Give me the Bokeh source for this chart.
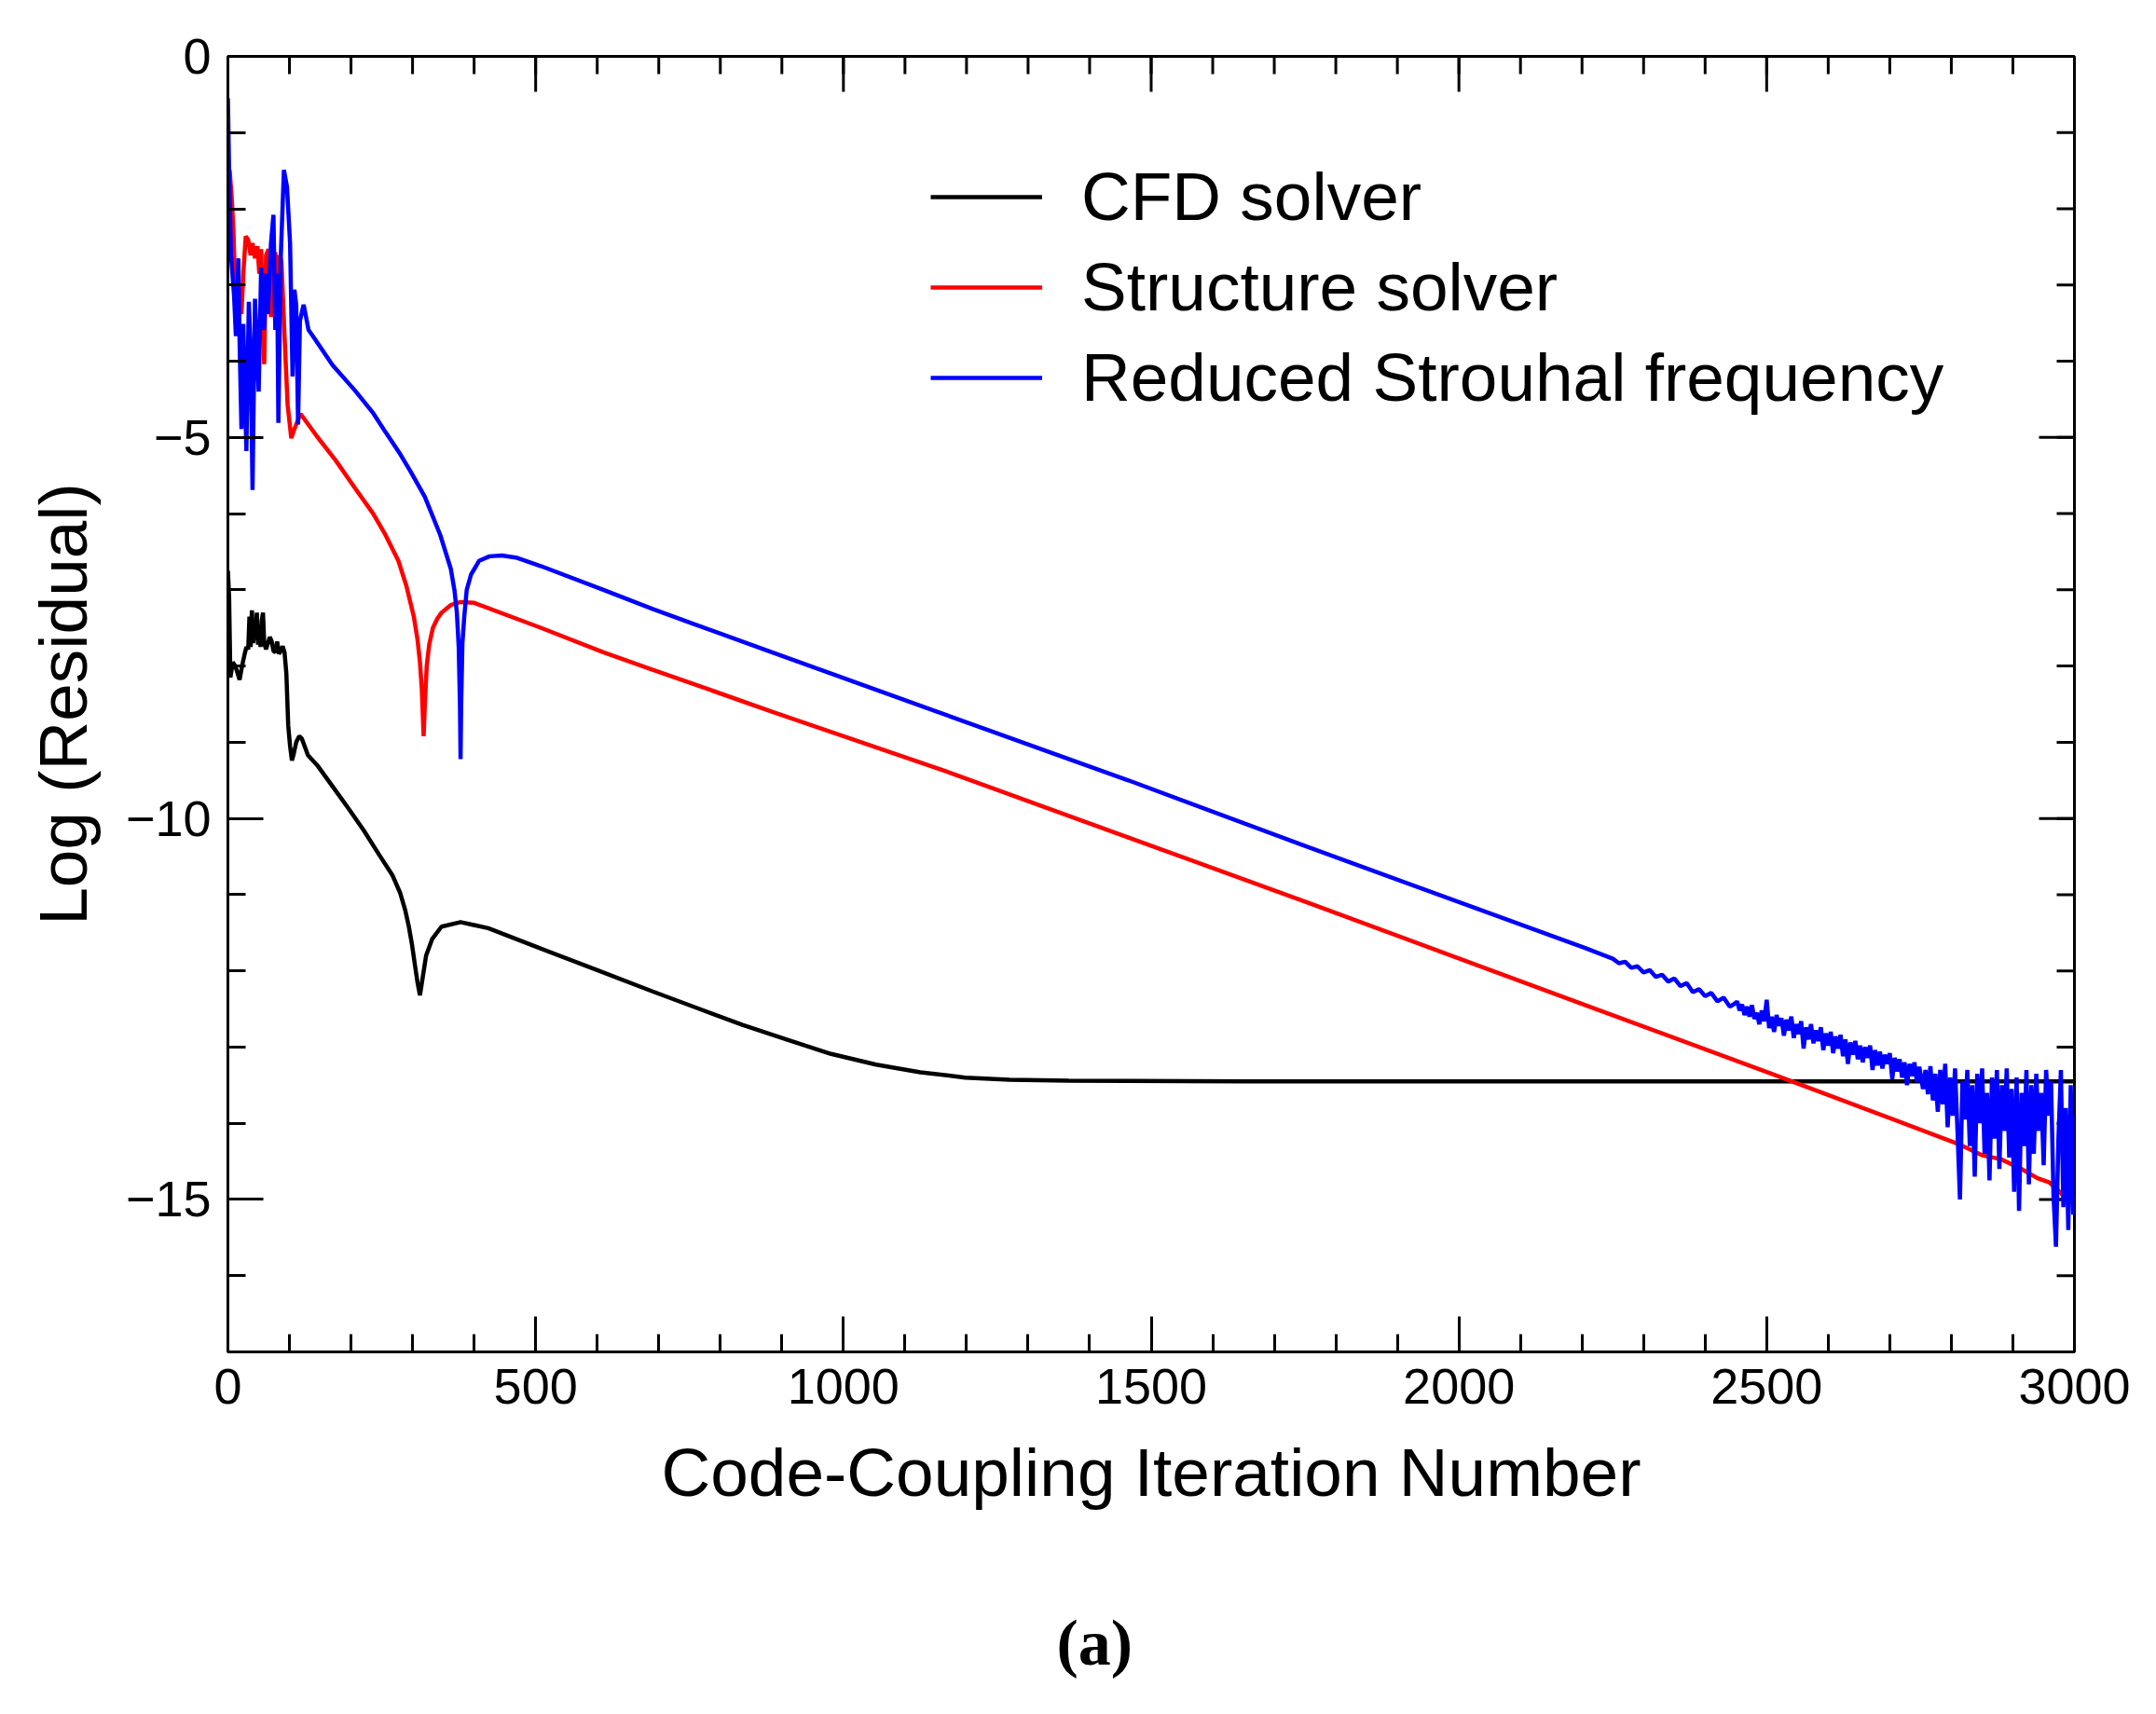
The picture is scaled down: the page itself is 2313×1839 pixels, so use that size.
from bokeh.plotting import figure
from bokeh.models import Range1d, FixedTicker, Legend, LegendItem, Title
from bokeh.embed import file_html
from bokeh.resources import INLINE

# CFD solver residual (black)
cfd_x = [0, 2, 4, 8, 12, 16, 19, 23, 27, 30, 33, 35, 37, 39, 41, 43, 45, 47, 49, 51,
         53, 55, 57, 59, 62, 65, 68, 71, 74, 77, 80, 83, 86, 89, 92, 95, 98, 101, 104, 107,
         111, 116, 120, 125, 130, 145, 171, 196, 221, 246, 267, 280, 288, 294, 299, 304, 308, 312, 317, 322,
         332, 347, 378, 423, 509, 600, 690, 763, 836, 908, 980, 1053, 1125, 1198, 1270, 1366, 1656, 2000,
         2500, 3000]
cfd_y = [-6.75, -7.1, -8.15, -7.95, -8.0, -8.1, -8.18, -8.0, -7.85, -7.75, -7.78, -7.35, -7.75, -7.27, -7.7, -7.55, -7.6, -7.3, -7.72, -7.55,
         -7.75, -7.4, -7.3, -7.7, -7.78, -7.7, -7.62, -7.67, -7.8, -7.82, -7.68, -7.84, -7.8, -7.74, -7.82, -8.1, -8.78, -9.05, -9.24, -9.15,
         -9.0, -8.92, -8.95, -9.06, -9.17, -9.30, -9.59, -9.87, -10.16, -10.48, -10.74, -10.98, -11.2, -11.42, -11.65, -11.93, -12.15, -12.32, -12.06, -11.80,
         -11.58, -11.42, -11.36, -11.44, -11.71, -11.99, -12.27, -12.49, -12.71, -12.90, -13.09, -13.23, -13.33, -13.40, -13.43, -13.44, -13.45, -13.45,
         -13.45, -13.45]

# Structure solver residual (red)
str_x = [1, 3, 6, 9, 12, 17, 22, 25, 29, 33, 37, 40, 44, 48, 51, 54, 57, 59, 62, 66,
         70, 73, 77, 81, 84, 87, 92, 97, 103, 108, 118, 145, 175, 206, 236, 256, 277, 290, 302, 308,
         312, 315, 318, 320, 323, 327, 333, 340, 347, 362, 378, 400, 509, 610, 690, 751, 884, 1173, 1463, 1753,
         2205, 2508, 2811, 2850, 2880, 2912, 2940, 2960, 2980, 3000]
str_y = [-1.45, -1.51, -1.83, -2.28, -3.14, -3.26, -3.38, -2.85, -2.36, -2.41, -2.61, -2.45, -2.65, -2.49, -2.85, -2.53, -3.47, -4.04, -2.61, -2.53,
         -3.42, -2.69, -2.57, -2.94, -2.61, -2.69, -3.67, -4.57, -5.01, -4.89, -4.69, -4.99, -5.3, -5.66, -6.0, -6.28, -6.62, -6.95, -7.35, -7.65,
         -7.95, -8.3, -8.92, -8.5, -8.0, -7.72, -7.5, -7.38, -7.3, -7.2, -7.16, -7.17, -7.5, -7.82, -8.05, -8.22, -8.6, -9.4, -10.25, -11.1,
         -12.45, -13.35, -14.27, -14.42, -14.47, -14.59, -14.72, -14.78, -14.93, -15.0]

# Reduced Strouhal frequency residual (blue)
rsf_x = [0, 2, 5, 10, 13, 17, 19, 22, 25, 30, 34, 37, 40, 44, 50, 54, 59, 62, 65, 70,
         74, 77, 80, 82, 86, 91, 96, 101, 105, 108, 111, 114, 117, 123, 126, 131, 138, 170, 206, 236,
         256, 280, 297, 320, 345, 362, 368, 372, 375, 377, 378, 379, 381, 384, 388, 395, 408, 425, 445, 470,
         509, 610, 690, 751, 884, 1173, 1463, 1753, 2205]
rsf_y = [-0.55, -1.5, -2.61, -3.14, -3.67, -2.65, -3.75, -4.89, -3.51, -5.18, -3.22, -3.87, -5.69, -3.18, -4.40, -2.77, -3.59, -2.85, -3.38, -2.45,
         -2.08, -3.59, -2.85, -4.81, -2.61, -1.49, -1.71, -2.45, -4.2, -3.06, -3.26, -4.83, -3.47, -3.26, -3.38, -3.59, -3.67, -4.05, -4.38, -4.68,
         -4.93, -5.22, -5.45, -5.78, -6.28, -6.72, -7.0, -7.3, -7.75, -8.5, -9.22, -8.5, -7.7, -7.35, -7.0, -6.8, -6.62, -6.56, -6.55, -6.58,
         -6.69, -7.0, -7.25, -7.43, -7.82, -8.66, -9.5, -10.37, -11.70]

# noisy tail of the blue curve
rsf_tail_x = [2250, 2260, 2270, 2280, 2290, 2300, 2310, 2320, 2330, 2340, 2350, 2360, 2370, 2380, 2390, 2400, 2410, 2420, 2430, 2440,
              2450, 2452, 2456, 2460, 2464, 2468, 2472, 2476, 2480, 2484, 2488, 2492, 2496, 2500, 2504, 2508, 2512, 2516, 2520, 2524,
              2528, 2532, 2536, 2540, 2544, 2548, 2552, 2556, 2560, 2564, 2568, 2572, 2576, 2580, 2584, 2588, 2592, 2596, 2600, 2604,
              2608, 2612, 2616, 2620, 2624, 2628, 2632, 2636, 2640, 2644, 2648, 2652, 2656, 2660, 2664, 2668, 2672, 2676, 2680, 2684,
              2688, 2692, 2696, 2700, 2704, 2708, 2712, 2716, 2720, 2724, 2728, 2732, 2736, 2740, 2744, 2748,
              2754, 2758, 2762, 2766, 2770, 2774, 2778, 2782, 2786, 2790, 2794, 2798, 2802, 2806, 2810, 2814, 2818, 2822, 2826, 2830,
              2834, 2838, 2842, 2846, 2850, 2854, 2858, 2862, 2866, 2870, 2874, 2878, 2882, 2886, 2890, 2894, 2898, 2902, 2906, 2910,
              2914, 2918, 2922, 2926, 2930, 2934, 2938, 2942, 2946, 2950, 2954, 2958, 2962, 2966, 2970, 2974, 2978, 2982, 2986, 2990,
              2994, 2998, 3000]
rsf_tail_y = [-11.84, -11.90, -11.88, -11.96, -11.94, -12.02, -11.99, -12.08, -12.05, -12.14, -12.10, -12.2, -12.16, -12.28, -12.24, -12.33, -12.29, -12.40, -12.35, -12.47,
              -12.42, -12.40, -12.52, -12.44, -12.58, -12.47, -12.60, -12.45, -12.63, -12.55, -12.70, -12.52, -12.66, -12.38, -12.75, -12.60, -12.80, -12.58, -12.72, -12.62,
              -12.85, -12.64, -12.78, -12.60, -12.88, -12.70, -12.83, -12.66, -13.02, -12.74, -12.90, -12.70, -12.95, -12.78, -12.92, -12.74, -13.04, -12.82, -12.98, -12.80,
              -13.08, -12.86, -13.02, -12.84, -13.12, -12.90, -13.22, -12.94, -13.10, -12.92, -13.16, -12.98, -13.20, -13.00, -13.14, -12.98, -13.30, -13.04, -13.24, -13.06,
              -13.28, -13.10, -13.22, -13.08, -13.42, -13.14, -13.32, -13.16, -13.40, -13.20, -13.50, -13.22, -13.38, -13.20, -13.46, -13.26,
              -13.55, -13.30, -13.62, -13.25, -13.70, -13.35, -13.85, -13.30, -13.75, -13.22, -14.05, -13.40, -13.90, -13.28, -14.10, -15.00, -13.45, -13.95, -13.30, -14.30,
              -13.50, -14.70, -13.35, -14.00, -13.28, -14.40, -13.60, -14.75, -13.40, -14.20, -13.30, -14.60, -13.50, -14.10, -13.28, -14.45, -13.55, -14.90, -13.40, -15.15,
              -13.60, -14.30, -13.30, -14.80, -13.50, -14.40, -13.35, -14.10, -13.60, -14.55, -13.30, -13.90, -13.45, -14.95, -15.62, -14.20, -13.30, -15.10, -13.80, -15.40,
              -13.50, -15.20, -13.90]

x_major = [0, 500, 1000, 1500, 2000, 2500, 3000]
x_minor = list(range(0, 3001, 100))
y_major = [0, -5, -10, -15]
y_minor = list(range(-17, 1))
y_labels = {0: "0", -5: "\u22125", -10: "\u221210", -15: "\u221215"}

FONT = "Liberation Sans"
FW, FH = 1981, 1390
X0, X1, Y0, Y1 = 0, 3000, -17, 0
MAJ, MIN = 38, 19  # tick lengths in px

p = figure(frame_width=FW, frame_height=FH,
           min_border_left=244, min_border_right=80, min_border_top=60, min_border_bottom=381,
           x_range=Range1d(X0, X1), y_range=Range1d(Y0, Y1),
           output_backend="svg", toolbar_location=None,
           x_axis_label="Code-Coupling Iteration Number", y_axis_label="Log (Residual)")
p.grid.visible = False
p.outline_line_color = "black"
p.outline_line_width = 3
p.background_fill_color = "white"
p.border_fill_color = "white"

for ax in (p.xaxis[0], p.yaxis[0]):
    ax.axis_line_color = "black"
    ax.axis_line_width = 3
    ax.major_tick_in = MAJ
    ax.major_tick_out = 0
    ax.minor_tick_in = MIN
    ax.minor_tick_out = 0
    ax.major_tick_line_width = 3
    ax.minor_tick_line_width = 3
    ax.major_label_text_font = FONT
    ax.major_label_text_font_size = "54px"
    ax.major_label_text_color = "black"
    ax.axis_label_text_font = FONT
    ax.axis_label_text_font_size = "73px"
    ax.axis_label_text_font_style = "normal"
    ax.axis_label_text_color = "black"

p.xaxis.ticker = FixedTicker(ticks=x_major, minor_ticks=x_minor)
p.yaxis.ticker = FixedTicker(ticks=y_major, minor_ticks=y_minor)
p.yaxis.major_label_overrides = y_labels
p.xaxis.major_label_standoff = 18
p.yaxis.major_label_standoff = 18
p.xaxis.axis_label_standoff = 30
p.yaxis.axis_label_standoff = 24

# mirrored inward ticks on the top and right frame edges
ux = (X1 - X0) / FW
uy = (Y1 - Y0) / FH
p.segment(x0=x_major, y0=[Y1] * len(x_major), x1=x_major, y1=[Y1 - MAJ * uy] * len(x_major),
          line_color="black", line_width=3)
p.segment(x0=x_minor, y0=[Y1] * len(x_minor), x1=x_minor, y1=[Y1 - MIN * uy] * len(x_minor),
          line_color="black", line_width=3)
p.segment(x0=[X1] * len(y_major), y0=y_major, x1=[X1 - MAJ * ux] * len(y_major), y1=y_major,
          line_color="black", line_width=3)
p.segment(x0=[X1] * len(y_minor), y0=y_minor, x1=[X1 - MIN * ux] * len(y_minor), y1=y_minor,
          line_color="black", line_width=3)

r_cfd = p.line(cfd_x, cfd_y, line_color="black", line_width=4.5)
r_str = p.line(str_x, str_y, line_color="#ff0000", line_width=4.5)
r_rsf = p.line(rsf_x + rsf_tail_x, rsf_y + rsf_tail_y, line_color="#0000ff", line_width=4.5)

legend = Legend(items=[LegendItem(label="CFD solver", renderers=[r_cfd]),
                       LegendItem(label="Structure solver", renderers=[r_str]),
                       LegendItem(label="Reduced Strouhal frequency", renderers=[r_rsf])],
                location=(754, 1004), glyph_width=120, glyph_height=40, label_standoff=42,
                spacing=14, padding=0, margin=0, border_line_color=None,
                background_fill_alpha=0, label_text_font=FONT, label_text_font_size="73px",
                label_text_color="black")
p.add_layout(legend)

p.add_layout(Title(text="(a)", align="left", text_font="Liberation Serif",
                   text_font_style="bold", text_font_size="70px", text_color="black",
                   standoff=198, offset=889), "below")

open("out.html", "w").write(file_html(p, INLINE))
